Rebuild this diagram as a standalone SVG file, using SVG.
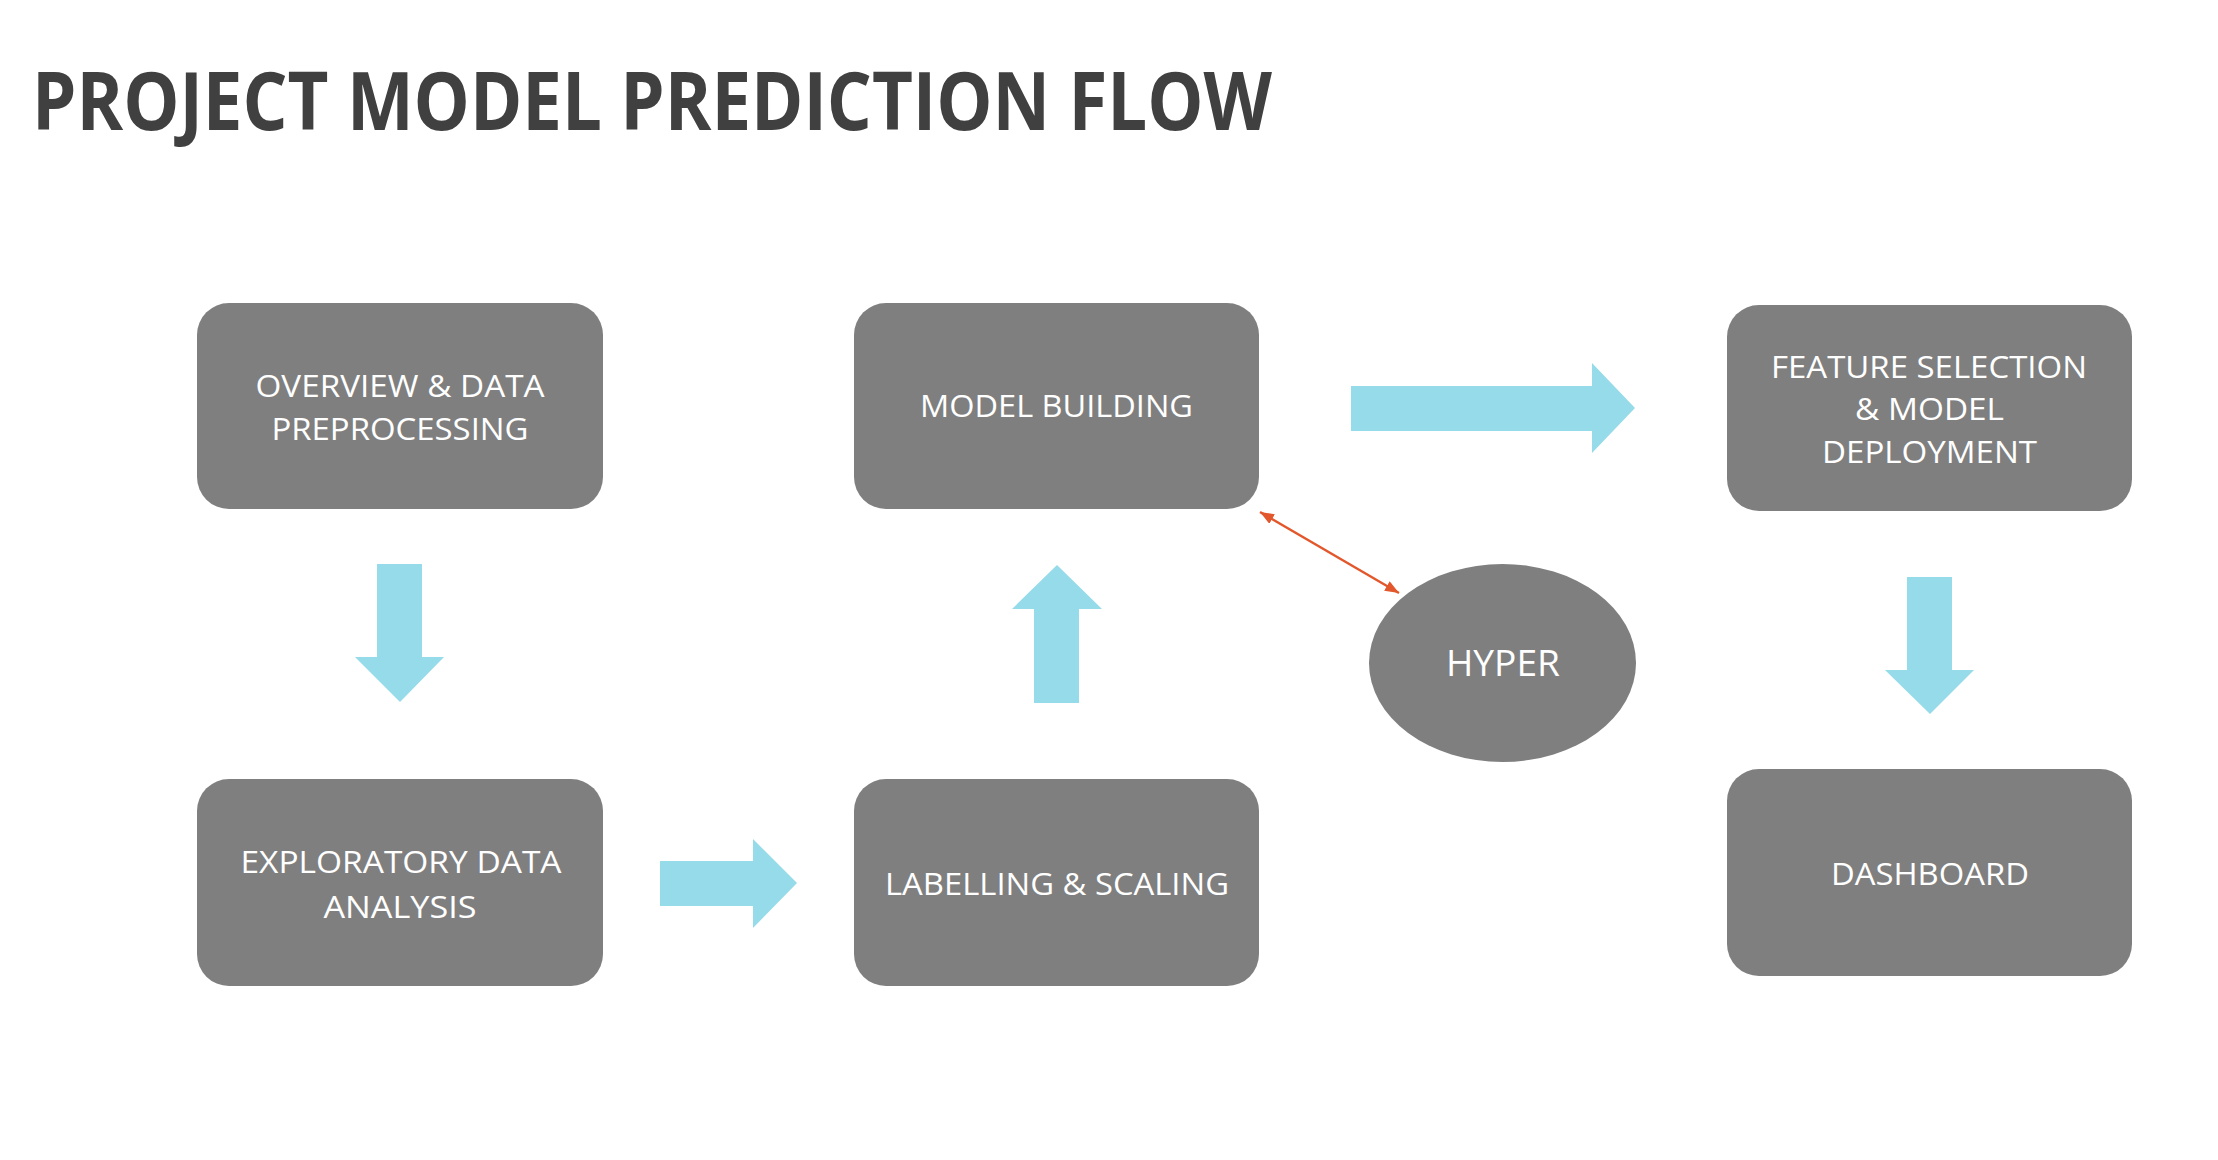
<svg xmlns="http://www.w3.org/2000/svg" width="2218" height="1160" viewBox="0 0 2218 1160">
  <defs>
    <style>
      .box { fill: #7f7f7f; }
      .lbl { fill: #ffffff; font-family: "Open Sans", "Liberation Sans", sans-serif; font-size: 31px; text-anchor: middle; }
      .big { font-size: 37px; }
      .flow { fill: #95dbea; }
      .title { fill: #404040; font-family: "Open Sans", "Liberation Sans", sans-serif; font-weight: bold; font-size: 80px; }
      .link { stroke: #e2572b; stroke-width: 2.4; fill: none; }
    </style>
    <marker id="oh" viewBox="0 0 14 11" refX="14" refY="5.5" markerWidth="14" markerHeight="11" markerUnits="userSpaceOnUse" orient="auto-start-reverse">
      <path d="M0,0 L14,5.5 L0,11 Z" fill="#e2572b"/>
    </marker>
  </defs>
  <rect width="2218" height="1160" fill="#ffffff"/>

  <text class="title" x="32" y="130" textLength="1240" lengthAdjust="spacingAndGlyphs">PROJECT MODEL PREDICTION FLOW</text>

  <g id="connectors">
    <polygon class="flow" points="377,564 422,564 422,657 444,657 400,702 355,657 377,657"/>
    <polygon class="flow" points="660,861 753,861 753,839 797,883 753,928 753,906 660,906"/>
    <polygon class="flow" points="1057,565 1102,609 1079,609 1079,703 1034,703 1034,609 1012,609"/>
    <polygon class="flow" points="1351,386 1592,386 1592,363 1635,408 1592,453 1592,431 1351,431"/>
    <polygon class="flow" points="1907,577 1952,577 1952,670 1974,670 1930,714 1885,670 1907,670"/>
    <line class="link" x1="1260" y1="512" x2="1399" y2="593" marker-start="url(#oh)" marker-end="url(#oh)"/>
  </g>

  <g id="overview">
    <rect class="box" x="197" y="303" width="406" height="206" rx="32"/>
    <text class="lbl" x="400" y="397" textLength="289" lengthAdjust="spacingAndGlyphs">OVERVIEW &amp; DATA</text>
    <text class="lbl" x="400" y="440" textLength="257" lengthAdjust="spacingAndGlyphs">PREPROCESSING</text>
  </g>

  <g id="eda">
    <rect class="box" x="197" y="779" width="406" height="207" rx="32"/>
    <text class="lbl" x="401" y="873" textLength="321" lengthAdjust="spacingAndGlyphs">EXPLORATORY DATA</text>
    <text class="lbl" x="400" y="918" textLength="153" lengthAdjust="spacingAndGlyphs">ANALYSIS</text>
  </g>

  <g id="labelling">
    <rect class="box" x="854" y="779" width="405" height="207" rx="32"/>
    <text class="lbl" x="1057" y="895" textLength="344" lengthAdjust="spacingAndGlyphs">LABELLING &amp; SCALING</text>
  </g>

  <g id="model-building">
    <rect class="box" x="854" y="303" width="405" height="206" rx="32"/>
    <text class="lbl" x="1056.5" y="417" textLength="273" lengthAdjust="spacingAndGlyphs">MODEL BUILDING</text>
  </g>

  <g id="hyper">
    <ellipse class="box" cx="1502.5" cy="663" rx="133.5" ry="99"/>
    <text class="lbl big" x="1503" y="676" textLength="114" lengthAdjust="spacingAndGlyphs">HYPER</text>
  </g>

  <g id="feature-selection">
    <rect class="box" x="1727" y="305" width="405" height="206" rx="32"/>
    <text class="lbl" x="1929" y="378" textLength="316" lengthAdjust="spacingAndGlyphs">FEATURE SELECTION</text>
    <text class="lbl" x="1929.5" y="420" textLength="149" lengthAdjust="spacingAndGlyphs">&amp; MODEL</text>
    <text class="lbl" x="1929.5" y="463" textLength="215" lengthAdjust="spacingAndGlyphs">DEPLOYMENT</text>
  </g>

  <g id="dashboard">
    <rect class="box" x="1727" y="769" width="405" height="207" rx="32"/>
    <text class="lbl" x="1930" y="885" textLength="198" lengthAdjust="spacingAndGlyphs">DASHBOARD</text>
  </g>
</svg>
